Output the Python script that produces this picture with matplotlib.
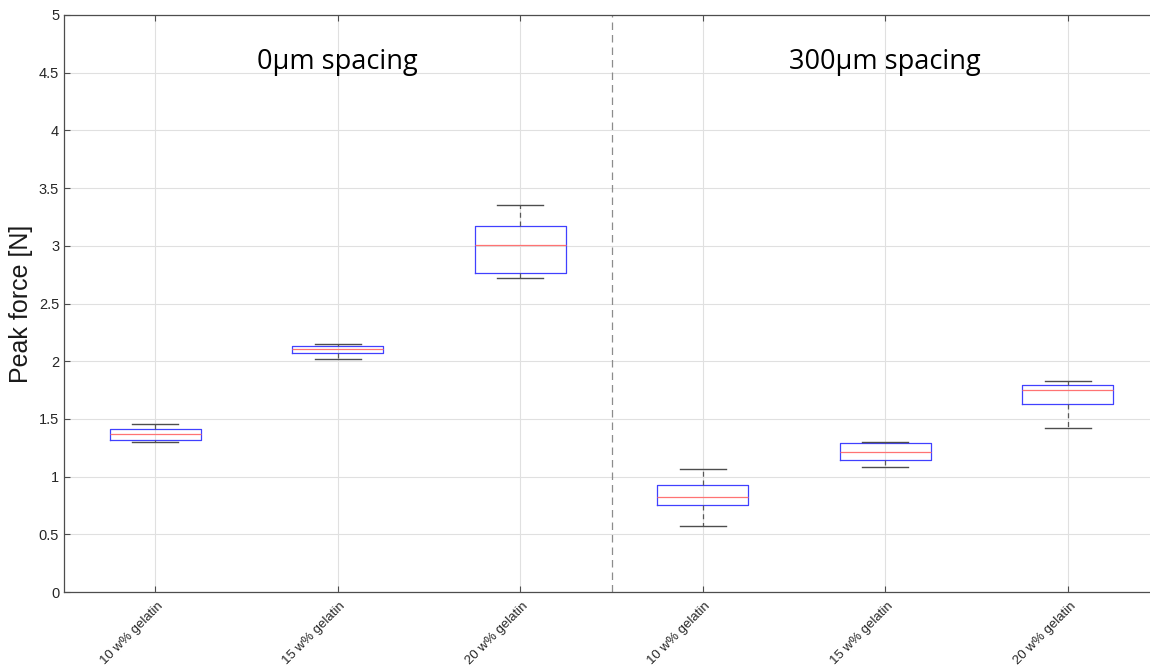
import matplotlib
matplotlib.use("Agg")
import matplotlib.pyplot as plt
import matplotlib.transforms as mtransforms
import numpy as np

plt.rcParams["font.family"] = ["Liberation Sans", "DejaVu Sans"]

# Box statistics per group: lower whisker, Q1, median, Q3, upper whisker
categories = ["10 w% gelatin", "15 w% gelatin", "20 w% gelatin",
              "10 w% gelatin", "15 w% gelatin", "20 w% gelatin"]
whislo = [1.30, 2.02, 2.72, 0.57, 1.08, 1.42]
q1 = [1.315, 2.075, 2.765, 0.75, 1.14, 1.63]
med = [1.367, 2.105, 3.005, 0.826, 1.21, 1.748]
q3 = [1.41, 2.13, 3.172, 0.93, 1.288, 1.791]
whishi = [1.456, 2.149, 3.354, 1.063, 1.297, 1.826]
group_titles = ["0µm spacing", "300µm spacing"]
y_ticks = [0, 0.5, 1, 1.5, 2, 2.5, 3, 3.5, 4, 4.5, 5]
y_tick_labels = ["0", "0.5", "1", "1.5", "2", "2.5", "3", "3.5", "4", "4.5", "5"]

fig = plt.figure(figsize=(11.5, 6.66), dpi=100)
ax = fig.add_axes([64 / 1150, 74 / 666, 1095 / 1150, 577 / 666])

stats = []
for i in range(len(categories)):
    stats.append(dict(whislo=whislo[i], q1=q1[i], med=med[i], q3=q3[i],
                      whishi=whishi[i], fliers=[], label=categories[i]))

pos = np.arange(1, len(categories) + 1)
ax.bxp(stats, positions=pos, widths=0.5, showfliers=False,
       boxprops=dict(color=(0.25, 0.25, 1.0), linewidth=0.9),
       medianprops=dict(color=(1.0, 0.45, 0.45), linewidth=0.9),
       whiskerprops=dict(color=(0.35, 0.35, 0.35), linewidth=0.9, linestyle=(0, (4, 3))),
       capprops=dict(color=(0.3, 0.3, 0.3), linewidth=1.0),
       capwidths=0.25)

ax.axvline(3.5, color=(0.55, 0.55, 0.55), linestyle=(0, (6, 4)), linewidth=0.9)

ax.set_xlim(0.5, 6.5)
ax.set_ylim(0, 5)
ax.set_yticks(y_ticks)
ax.set_yticklabels(y_tick_labels)
ax.set_xticks(pos)

ax.grid(True, color=(0.88, 0.88, 0.88), linewidth=0.8)
ax.set_axisbelow(True)
ax.tick_params(direction="in", top=True, right=True, length=4,
               color=(0.3, 0.3, 0.3))
ax.tick_params(axis="y", labelsize=10.5, labelcolor=(0.15, 0.15, 0.15))
ax.tick_params(axis="x", pad=9)
ax.set_xticklabels(categories, rotation=45, ha="right", va="center",
                   rotation_mode="anchor", fontsize=9.5, color=(0.15, 0.15, 0.15))
# nudge rotated category labels slightly to the right of their ticks
shift = mtransforms.ScaledTranslation(6 / 100, 0, fig.dpi_scale_trans)
for lbl in ax.get_xticklabels():
    lbl.set_transform(lbl.get_transform() + shift)
for sp in ax.spines.values():
    sp.set_color((0.3, 0.3, 0.3))
    sp.set_linewidth(0.9)

ax.set_ylabel("Peak force [N]", fontsize=18, color=(0.1, 0.1, 0.1), labelpad=4)

ax.text(2, 4.59, group_titles[0], ha="center", va="center", fontsize=19.5,
        family="Open Sans", color="black")
ax.text(5, 4.59, group_titles[1], ha="center", va="center", fontsize=19.5,
        family="Open Sans", color="black")

fig.savefig("out.png", dpi=100)
